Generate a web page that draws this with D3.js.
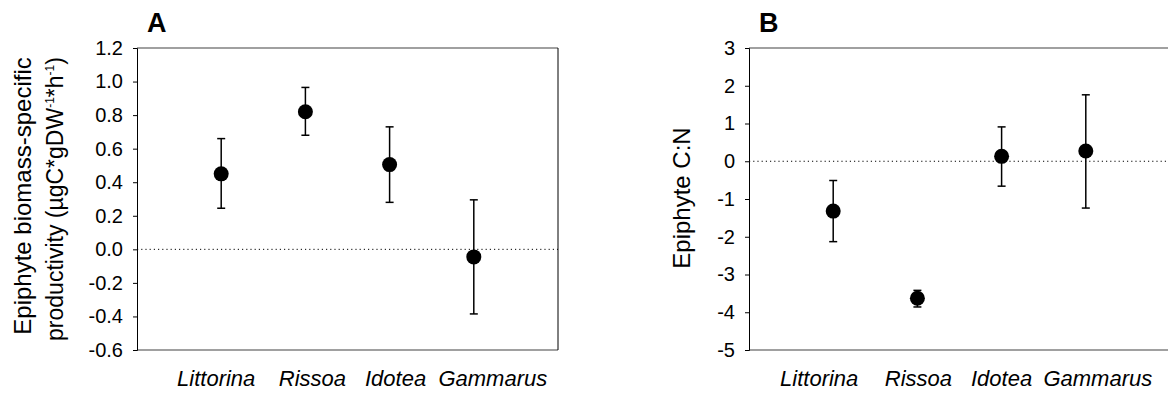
<!DOCTYPE html>
<html>
<head>
<meta charset="utf-8">
<script src="https://cdn.jsdelivr.net/npm/d3@7"></script>
<style>
body { margin: 0; background: #fff; }
svg { font-family: "Liberation Sans", Arial, sans-serif; }
</style>
</head>
<body>
<script>
var categories = ["Littorina", "Rissoa", "Idotea", "Gammarus"];

// panel A: productivity
var prodMean = [0.45, 0.82, 0.505, -0.045];
var prodHigh = [0.66, 0.965, 0.73, 0.295];
var prodLow = [0.245, 0.68, 0.28, -0.385];
var prodTicks = [1.2, 1.0, 0.8, 0.6, 0.4, 0.2, 0.0, -0.2, -0.4, -0.6];

// panel B: C:N
var cnMean = [-1.32, -3.63, 0.13, 0.27];
var cnHigh = [-0.51, -3.42, 0.91, 1.76];
var cnLow = [-2.13, -3.86, -0.66, -1.24];
var cnTicks = [3, 2, 1, 0, -1, -2, -3, -4, -5];

var w = 1168, h = 399;
var svg = d3.select("body").append("svg").attr("width", w).attr("height", h);

function hyph(f) {
	return function(d) { return f(d).replace("\u2212", "-"); };
}

function panel(opt) {
	var g = svg.append("g");
	var x = d3.scaleLinear().domain([0, 5]).range([opt.left, opt.left + 421]);
	var y = d3.scaleLinear().domain(opt.domain).range([350, 48]);

	// grey frame top / bottom, black right
	g.append("line").attr("x1", opt.left).attr("x2", x(5)).attr("y1", 48).attr("y2", 48)
		.attr("stroke", "#808080").attr("stroke-width", 1.5);
	g.append("line").attr("x1", opt.left).attr("x2", x(5)).attr("y1", 350).attr("y2", 350)
		.attr("stroke", "#808080").attr("stroke-width", 1.5);
	g.append("line").attr("x1", x(5)).attr("x2", x(5)).attr("y1", 48).attr("y2", 350)
		.attr("stroke", "#000").attr("stroke-width", 1);

	// zero line
	g.append("line").attr("x1", opt.left).attr("x2", x(5)).attr("y1", y(0)).attr("y2", y(0))
		.attr("stroke", "#000").attr("stroke-width", 1).attr("stroke-dasharray", "1.2,3");

	var axis = d3.axisLeft(y).tickValues(opt.ticks).tickSize(4).tickPadding(10).tickFormat(hyph(opt.fmt));
	var ax = g.append("g").attr("transform", "translate(" + opt.left + ",0)").call(axis);
	ax.select(".domain").attr("stroke", "#000");
	ax.selectAll(".tick line").attr("stroke", "#000");
	ax.selectAll("text").attr("font-size", "20px").attr("fill", "#000")
		.attr("font-family", "Liberation Sans, Arial, sans-serif");

	var data = categories.map(function(c, i) {
		return {c: c, i: i + 1, m: opt.mean[i], hi: opt.high[i], lo: opt.low[i]};
	});
	var pts = g.selectAll(".pt").data(data).enter().append("g");
	pts.append("line")
		.attr("x1", function(d) { return x(d.i); }).attr("x2", function(d) { return x(d.i); })
		.attr("y1", function(d) { return y(d.hi); }).attr("y2", function(d) { return y(d.lo); })
		.attr("stroke", "#000").attr("stroke-width", 1.5);
	pts.append("line")
		.attr("x1", function(d) { return x(d.i) - 4; }).attr("x2", function(d) { return x(d.i) + 4; })
		.attr("y1", function(d) { return y(d.hi); }).attr("y2", function(d) { return y(d.hi); })
		.attr("stroke", "#000").attr("stroke-width", 1.5);
	pts.append("line")
		.attr("x1", function(d) { return x(d.i) - 4; }).attr("x2", function(d) { return x(d.i) + 4; })
		.attr("y1", function(d) { return y(d.lo); }).attr("y2", function(d) { return y(d.lo); })
		.attr("stroke", "#000").attr("stroke-width", 1.5);
	pts.append("circle")
		.attr("cx", function(d) { return x(d.i); }).attr("cy", function(d) { return y(d.m); })
		.attr("r", 7.5).attr("fill", "#000");

	// labels were typed as one spaced string, so they sit a little off the points
	g.selectAll(".cat").data(data).enter().append("text")
		.attr("x", function(d, i) { return x(d.i) + opt.shift[i]; }).attr("y", 386)
		.attr("text-anchor", "middle").attr("font-size", "22px").attr("font-style", "italic")
		.text(function(d) { return d.c; });

	g.append("text").attr("x", opt.left + 10).attr("y", 32).attr("font-size", "27px")
		.attr("font-weight", "bold").text(opt.letter);
}

panel({left: 137, domain: [-0.6, 1.2], ticks: prodTicks, fmt: d3.format(".1f"),
	mean: prodMean, high: prodHigh, low: prodLow, letter: "A", shift: [-5, 7, 6, 19]});
panel({left: 749, domain: [-5, 3], ticks: cnTicks, fmt: d3.format("d"),
	mean: cnMean, high: cnHigh, low: cnLow, letter: "B", shift: [-14, 1, 0, 12]});

// y axis titles
svg.append("text").attr("transform", "translate(31,196) rotate(-90)")
	.attr("text-anchor", "middle").attr("font-size", "24px").text("Epiphyte biomass-specific");
var t2 = svg.append("text").attr("transform", "translate(63,199) rotate(-90)")
	.attr("text-anchor", "middle").attr("font-size", "23px");
t2.append("tspan").text("productivity (\u00b5gC*gDW");
t2.append("tspan").attr("font-size", "12px").attr("dy", -9).text("-1");
t2.append("tspan").attr("dy", 9).text("*h");
t2.append("tspan").attr("font-size", "12px").attr("dy", -9).text("-1");
t2.append("tspan").attr("dy", 9).text(")");

svg.append("text").attr("transform", "translate(690,198) rotate(-90)")
	.attr("text-anchor", "middle").attr("font-size", "24px").text("Epiphyte C:N");
</script>
</body>
</html>
